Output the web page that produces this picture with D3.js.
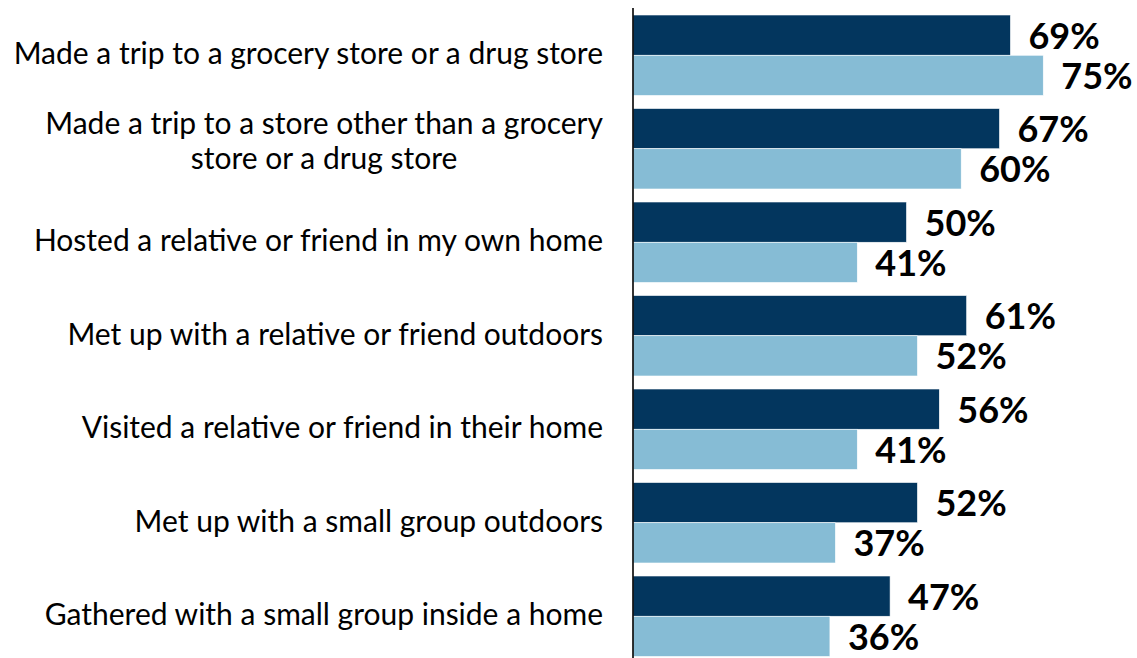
<!DOCTYPE html>
<html>
<head>
<meta charset="utf-8">
<script src="https://cdn.jsdelivr.net/npm/d3@7"></script>
<style>
  html, body { margin: 0; padding: 0; background: #fff; }
  svg { display: block; }
</style>
</head>
<body>
<svg id="chart" width="1137" height="658"></svg>
<script>
const categories = [
  "Made a trip to a grocery store or a drug store",
  "Made a trip to a store other than a grocery\nstore or a drug store",
  "Hosted a relative or friend in my own home",
  "Met up with a relative or friend outdoors",
  "Visited a relative or friend in their home",
  "Met up with a small group outdoors",
  "Gathered with a small group inside a home"
];
const seriesKeys = ["dark", "light"];
const seriesDark = [69, 67, 50, 61, 56, 52, 47];
const seriesLight = [75, 60, 41, 52, 41, 37, 36];
const seriesColors = ["#03365E", "#86BCD5"];

const W = 1137, H = 658;
const svg = d3.select("#chart");

const x = d3.scaleLinear().domain([0, 100]).range([633, 633 + 547]);
const y = d3.scaleBand().domain(categories).range([8.5, 663]).paddingInner(0.139).paddingOuter(0.0695);
const ySub = d3.scaleBand().domain(seriesKeys).range([0, y.bandwidth()]).padding(0);

const rows = categories.map((c, i) => ({ cat: c, values: [seriesDark[i], seriesLight[i]] }));

const groups = svg.append("g").selectAll("g.row").data(rows).join("g")
  .attr("class", "row")
  .attr("transform", d => `translate(0,${y(d.cat)})`);

groups.selectAll("rect").data(d => d.values.map((v, j) => ({ v, key: seriesKeys[j], j })))
  .join("rect")
  .attr("x", x(0))
  .attr("y", d => ySub(d.key))
  .attr("width", d => x(d.v) - x(0))
  .attr("height", ySub.bandwidth())
  .attr("fill", d => seriesColors[d.j])
  .attr("stroke", "#fff")
  .attr("stroke-width", 0.6);

groups.selectAll("text.val").data(d => d.values.map((v, j) => ({ v, key: seriesKeys[j] })))
  .join("text")
  .attr("class", "val")
  .attr("x", d => x(d.v) + 18)
  .attr("y", d => ySub(d.key) + ySub.bandwidth() / 2 + 13.5)
  .attr("font-family", "Lato, 'Open Sans', sans-serif")
  .attr("font-weight", 700)
  .attr("font-size", 36)
  .attr("fill", "#000")
  .text(d => d.v + "%");

// category labels
const labelRight = 603;
const labelG = svg.append("g");
rows.forEach(d => {
  const lines = d.cat.split("\n");
  const cy = y(d.cat) + y.bandwidth() / 2;
  const t = labelG.append("text")
    .attr("font-family", "Lato, 'Open Sans', sans-serif")
    .attr("font-size", 30)
    .attr("fill", "#000")
    .attr("text-anchor", "middle");
  const offsets = lines.length === 1 ? [9] : [-15, 20];
  const tspans = lines.map((ln, k) => t.append("tspan").attr("y", cy + offsets[k]).text(ln));
  const maxW = d3.max(tspans, s => s.node().getComputedTextLength());
  tspans.forEach(s => s.attr("x", labelRight - maxW / 2));
});

// axis line
svg.append("line")
  .attr("x1", x(0)).attr("x2", x(0))
  .attr("y1", 8).attr("y2", H)
  .attr("stroke", "#000").attr("stroke-width", 1.6);
</script>
</body>
</html>
